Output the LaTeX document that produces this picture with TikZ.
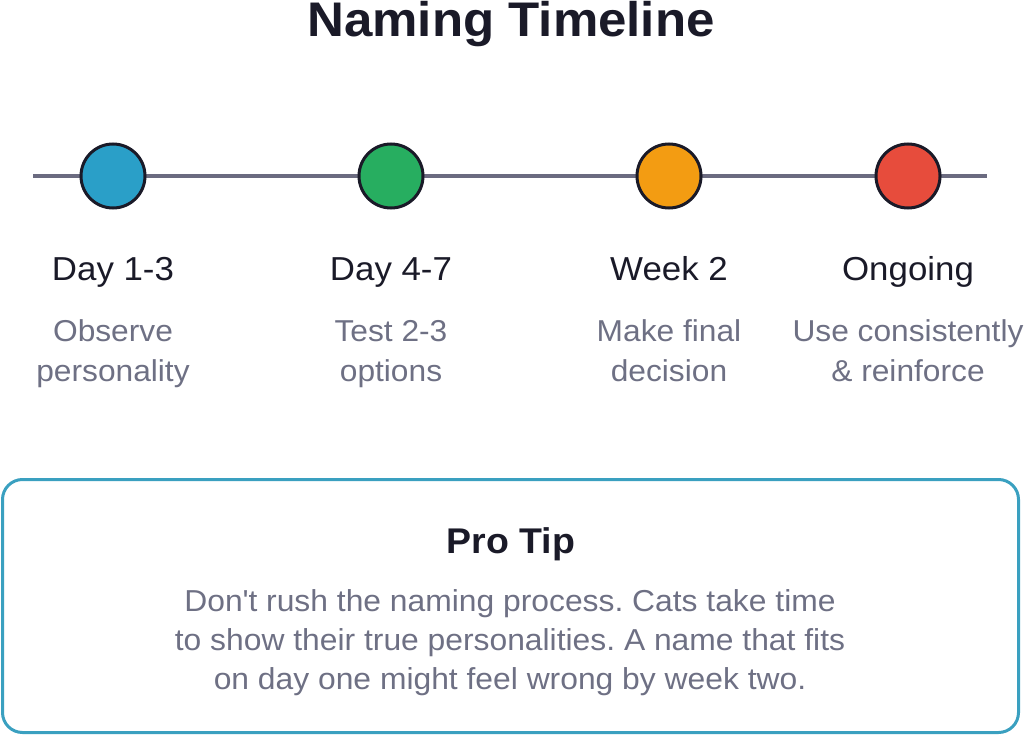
\documentclass[tikz,border=0pt]{standalone}
\usepackage{fontspec}
\setmainfont[FakeStretch=1.05]{Liberation Sans}
\usepackage{xcolor}
\usetikzlibrary{positioning}
\definecolor{lineGray}{RGB}{107, 107, 128}
\definecolor{textGray}{RGB}{110, 112, 132}
\definecolor{darkInk}{RGB}{26, 26, 40}
\definecolor{dotBlue}{RGB}{42, 159, 200}
\definecolor{dotGreen}{RGB}{39, 174, 96}
\definecolor{dotOrange}{RGB}{243, 156, 18}
\definecolor{dotRed}{RGB}{231, 76, 60}
\definecolor{tipBorder}{RGB}{58, 160, 192}
\frenchspacing

\begin{document}
\begin{tikzpicture}[x=1pt, y=-1pt]
        \tikzstyle{dot} = [circle, minimum size=64pt, inner sep=0pt, draw=darkInk, line width=3pt]
        \tikzstyle{phase} = [font=\fontsize{33.2}{40}\selectfont, text=darkInk, inner sep=0pt, anchor=base]
        \tikzstyle{desc} = [font=\fontsize{30.2}{39.5}\selectfont, text=textGray, align=center, inner sep=0pt, anchor=base]
        \tikzstyle{rail} = [line width=4pt, lineGray]

        \useasboundingbox (0,0) rectangle (1024,735);

        % Title
        \node[font=\fontsize{48.6}{58}\selectfont\bfseries, text=darkInk, inner sep=0pt, anchor=base] (title) at (511,37) {Naming Timeline};

        % Timeline
        \coordinate (railstart) at (33,176);
        \coordinate (railend) at (987,176);
        \draw[rail] (railstart) -- (railend);

        \node[dot, fill=dotBlue] (d1) at (113,176) {};
        \node[dot, fill=dotGreen] (d2) at (391,176) {};
        \node[dot, fill=dotOrange] (d3) at (669,176) {};
        \node[dot, fill=dotRed] (d4) at (908,176) {};

        % Phases
        \node[phase] (p1) at (113,280) {Day 1-3};
        \node[phase] (p2) at (391,280) {Day 4-7};
        \node[phase] (p3) at (669,280) {Week 2};
        \node[phase] (p4) at (908,280) {Ongoing};

        \node[desc] (t1) at (113,381) {Observe\\personality};
        \node[desc] (t2) at (391,381) {Test 2-3\\options};
        \node[desc] (t3) at (669,381) {Make final\\decision};
        \node[desc] (t4) at (908,381) {Use consistently\\\& reinforce};

        % Pro tip
        \node[rectangle, rounded corners=20pt, draw=tipBorder, line width=3pt, minimum width=1016pt, minimum height=253pt] (tipbox) at (510.5,606) {};
        \node[font=\fontsize{35.7}{40}\selectfont\bfseries, text=darkInk, inner sep=0pt, anchor=base] (tiptitle) at (511,553) {Pro Tip};
        \node[desc, font=\fontsize{30.3}{39}\selectfont] (tiptext) at (510,689) {Don\textquotesingle t rush the naming process. Cats take time\\to show their true personalities. A name that fits\\on day one might feel wrong by week two.};
    \end{tikzpicture}
\end{document}
